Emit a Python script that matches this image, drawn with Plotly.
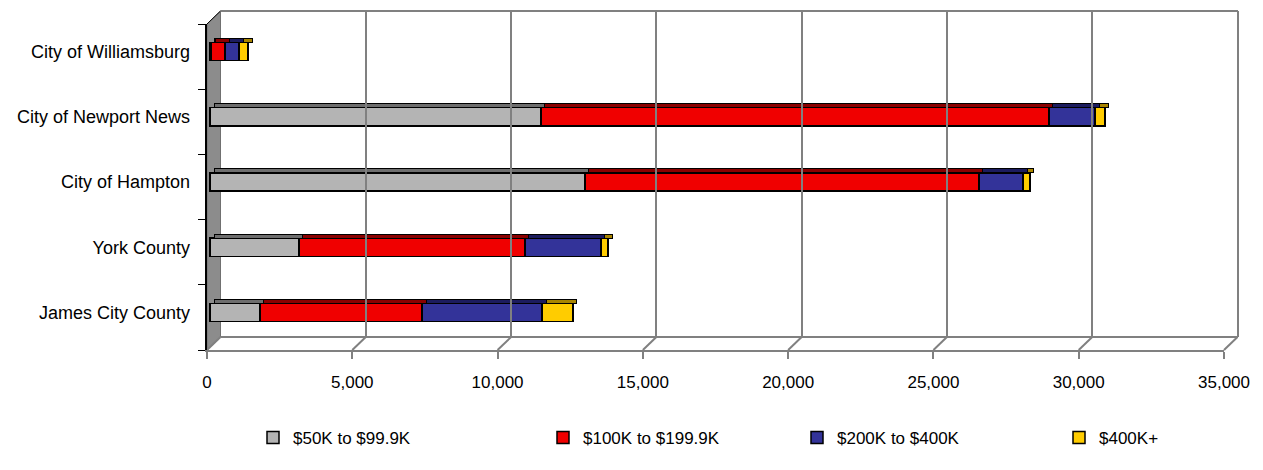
import plotly.graph_objects as go

# Households by home value bracket, per locality (top-to-bottom order as shown)
localities = ["City of Williamsburg", "City of Newport News", "City of Hampton",
              "York County", "James City County"]
brackets = ["$50K to $99.9K", "$100K to $199.9K", "$200K to $400K", "$400K+"]

homes_50_100 = [40, 11390, 12900, 3060, 1720]
homes_100_200 = [480, 17480, 13560, 7780, 5580]
homes_200_400 = [480, 1590, 1520, 2610, 4130]
homes_400_plus = [310, 340, 240, 250, 1060]

series = [homes_50_100, homes_100_200, homes_200_400, homes_400_plus]
colors = ["#b4b4b4", "#f00000", "#333399", "#ffcc00"]
top_colors = ["#6e6e6e", "#8a0000", "#1c1c5e", "#a88400"]

x_ticks = [0, 5000, 10000, 15000, 20000, 25000, 30000, 35000]
x_tick_text = ["0", "5,000", "10,000", "15,000", "20,000", "25,000", "30,000", "35,000"]

# ---- geometry of the pseudo-3D frame (pixels) ----
W, H = 1263, 470
L, R, T, B = 207, 18, 11, 120           # plot area: x 207..1245, y 11..350
PW, PH = W - L - R, H - T - B
FRONT_RIGHT = 1224                      # front edge end (35,000)
DX, DY = 13.5, 13                       # depth offset of the back wall
BAR_DX = 3                              # bars sit slightly behind the front plane
BAR_DY = 5
TOP_DX, TOP_DY = 4, 4                   # bar top-face depth
XMAX = 35000
scale = (FRONT_RIGHT - L) / XMAX        # px per unit

FONT = "Liberation Sans, Arial, sans-serif"
BAR_W = 0.28
LEGEND_TEXT_X = [293, 583, 837, 1099]   # legend entry text starts
LEGEND_Y = 438


def px(xp):
    return (xp - L) / PW


def py(yp):
    return (H - B - yp) / PH


front_dom = (FRONT_RIGHT - L) / PW
cat_step = (H - B - (T + DY)) / 5
delta = BAR_DY / cat_step
top_w = TOP_DY / cat_step

fig = go.Figure()

# front frame subplot (axis line, ticks and labels)
fig.add_trace(go.Scatter(x=[], y=[], xaxis="x", yaxis="y",
                         showlegend=False, hoverinfo="skip"))
# back wall subplot (gridlines)
fig.add_trace(go.Scatter(x=[], y=[], xaxis="x2", yaxis="y3",
                         showlegend=False, hoverinfo="skip"))

# top faces of the bars
for name, vals, col in zip(brackets, series, top_colors):
    fig.add_trace(go.Bar(
        name=name, y=localities, x=vals, orientation="h",
        xaxis="x4", yaxis="y2", showlegend=False, hoverinfo="skip",
        marker=dict(color=col, line=dict(color="#000000", width=1)),
        width=top_w, offset=-BAR_W / 2 - top_w,
    ))

# front faces of the bars, one legend box per bracket
legend_ids = ["legend", "legend2", "legend3", "legend4"]
for name, vals, col, lg in zip(brackets, series, colors, legend_ids):
    fig.add_trace(go.Bar(
        name=name, y=localities, x=vals, orientation="h",
        xaxis="x3", yaxis="y2", legend=lg,
        marker=dict(color=col, line=dict(color="#000000", width=1.5)),
        width=BAR_W,
    ))

shapes = []
gray = "#808080"
# left wall
shapes.append(dict(type="path", xref="paper", yref="paper", layer="below",
                   path=(f"M {px(L)},{py(T + DY)} L {px(L + DX)},{py(T)} "
                         f"L {px(L + DX)},{py(H - B - DY)} L {px(L)},{py(H - B)} Z"),
                   fillcolor="#8c8c8c", line=dict(color="#707070", width=1)))
# wall top diagonal
shapes.append(dict(type="line", xref="paper", yref="paper", layer="between",
                   x0=px(L), y0=py(T + DY), x1=px(L + DX), y1=py(T),
                   line=dict(color="#000000", width=1)))
# back wall top edge
shapes.append(dict(type="line", xref="paper", yref="paper", layer="between",
                   x0=px(L + DX), y0=py(T), x1=px(FRONT_RIGHT + DX + 0.5), y1=py(T),
                   line=dict(color=gray, width=2)))
# floor back edge
shapes.append(dict(type="line", xref="paper", yref="paper", layer="between",
                   x0=px(L + DX), y0=py(H - B - DY), x1=px(FRONT_RIGHT + DX + 0.5),
                   y1=py(H - B - DY), line=dict(color=gray, width=2)))
# floor diagonals at each tick
for v in x_ticks:
    xf = L + v * scale
    shapes.append(dict(type="line", xref="paper", yref="paper", layer="between",
                       x0=px(xf), y0=py(H - B), x1=px(xf + DX), y1=py(H - B - DY),
                       line=dict(color=gray, width=2)))

back_lo = (L - (L + DX)) / scale
back_hi = (L + PW - (L + DX)) / scale


def legend_box(text_x):
    return dict(orientation="h", xref="container", yref="container",
                x=(text_x - 40) / W, y=(H - LEGEND_Y) / H,
                yanchor="middle", xanchor="left", itemwidth=30,
                font=dict(family=FONT, size=17), bgcolor="rgba(0,0,0,0)")


fig.update_layout(
    width=W, height=H, autosize=False,
    margin=dict(l=L, r=R, t=T, b=B, pad=0),
    paper_bgcolor="#ffffff", plot_bgcolor="rgba(0,0,0,0)",
    barmode="stack",
    font=dict(family=FONT, size=18, color="#000000"),
    shapes=shapes,
    xaxis=dict(type="linear", domain=[0, front_dom], range=[0, XMAX], anchor="y",
               tickmode="array", tickvals=x_ticks, ticktext=x_tick_text,
               showticklabels=True, tickfont=dict(family=FONT, size=17),
               ticklabelstandoff=9,
               showgrid=False, zeroline=False, showline=True, linecolor=gray, linewidth=2,
               ticks="outside", ticklen=7, tickwidth=2, tickcolor=gray,
               automargin=False),
    xaxis2=dict(type="linear", domain=[0, 1], range=[back_lo, back_hi], anchor="y3",
                tickmode="array", tickvals=x_ticks[1:], showticklabels=False, ticks="",
                showgrid=True, gridcolor=gray, gridwidth=2,
                zeroline=False, showline=False, automargin=False),
    xaxis3=dict(type="linear", overlaying="x",
                range=[-BAR_DX / scale, XMAX - BAR_DX / scale], visible=False),
    xaxis4=dict(type="linear", overlaying="x",
                range=[-(BAR_DX + TOP_DX) / scale, XMAX - (BAR_DX + TOP_DX) / scale],
                visible=False),
    yaxis=dict(type="linear", domain=[0, (H - B - (T + DY)) / PH], range=[-0.5, 4.5],
               anchor="x", tickmode="array", tickvals=[-0.5, 0.5, 1.5, 2.5, 3.5, 4.5],
               showticklabels=False,
               ticks="outside", ticklen=7, tickcolor="#000000", tickwidth=1,
               showgrid=False, zeroline=False, automargin=False,
               showline=True, linecolor="#000000", linewidth=1.5),
    yaxis2=dict(overlaying="y", side="left", type="category",
                categoryorder="array", categoryarray=localities,
                range=[4.5 + delta, -0.5 + delta], automargin=False,
                showgrid=False, zeroline=False, showline=False, ticks="",
                ticklabelstandoff=16),
    yaxis3=dict(type="linear", domain=[DY / PH, 1], range=[0, 1], visible=False,
                anchor="x2"),
    legend=legend_box(LEGEND_TEXT_X[0]),
    legend2=legend_box(LEGEND_TEXT_X[1]),
    legend3=legend_box(LEGEND_TEXT_X[2]),
    legend4=legend_box(LEGEND_TEXT_X[3]),
    showlegend=True,
)

fig.write_html("out.html")
